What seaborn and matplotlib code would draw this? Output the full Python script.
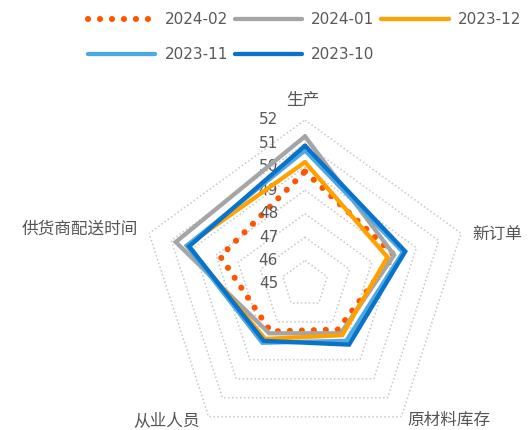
import numpy as np
import pandas as pd
import matplotlib
matplotlib.use("Agg")
import matplotlib.pyplot as plt
import matplotlib.transforms as mtransforms
import seaborn as sns

# Manufacturing PMI sub-indices by month
categories = ["生产", "新订单", "原材料库存", "从业人员", "供货商配送时间"]
months = ["2024-02", "2024-01", "2023-12", "2023-11", "2023-10"]
v_2024_02 = [49.8, 49.0, 47.4, 47.5, 48.8]
v_2024_01 = [51.3, 49.0, 47.6, 47.6, 50.8]
v_2023_12 = [50.2, 48.7, 47.7, 47.9, 50.3]
v_2023_11 = [50.7, 49.4, 48.0, 48.1, 50.3]
v_2023_10 = [50.9, 49.5, 48.2, 48.0, 50.2]
series_values = [v_2024_02, v_2024_01, v_2023_12, v_2023_11, v_2023_10]
ring_levels = [46, 47, 48, 49, 50, 51, 52]
r_min, r_max = 45, 52

colors = ["#FF5500", "#A5A5A5", "#FFA200", "#4BA9E3", "#0A72C8"]

sns.set_theme(style="white")
plt.rcParams["font.family"] = ["DejaVu Sans", "Noto Sans CJK SC"]

fig = plt.figure(figsize=(5.32, 4.30), dpi=100)
W, H = 532, 430
cx, cy, R = 305, 284, 164
ax = fig.add_axes([(cx - R) / W, (H - cy - R) / H, 2 * R / W, 2 * R / H],
                  projection="polar")
ax.set_theta_offset(np.pi / 2)
ax.set_theta_direction(-1)
ax.set_ylim(r_min, r_max)
ax.grid(False)
ax.spines["polar"].set_visible(False)
ax.set_xticks([])
ax.set_yticks([])
ax.patch.set_alpha(0)

n = len(categories)
theta = np.arange(n) * 2 * np.pi / n
theta_closed = np.append(theta, 2 * np.pi)

# dotted pentagon rings
for lvl in ring_levels:
    ax.plot(theta_closed, [lvl] * (n + 1), color="#C8C8C8", lw=1.1,
            linestyle=(0, (1, 1.6)), zorder=1)

# data polygons
lines = []
for i, (m, vals, c) in enumerate(zip(months, series_values, colors)):
    df = pd.DataFrame({"theta": theta_closed, "value": list(vals) + [vals[0]]})
    sns.lineplot(data=df, x="theta", y="value", sort=False, estimator=None,
                 ax=ax, zorder=3 + i, label=m, legend=False, color=c)
    ln = ax.lines[-1]
    if i == 0:
        ln.set_linewidth(4.4)
        ln.set_dashes((0.01, 1.95))
        ln.set_dash_capstyle("round")
    else:
        ln.set_linewidth(3.1)
        ln.set_linestyle("-")
        ln.set_solid_capstyle("round")
        ln.set_solid_joinstyle("miter")
    lines.append(ln)

ax.set_xlabel("")
ax.set_ylabel("")
if ax.get_legend():
    ax.get_legend().remove()
ax.set_ylim(r_min, r_max)

# radial value labels along the top axis
off = mtransforms.offset_copy(ax.transData, fig=fig, x=-27, y=0, units="dots")
for lvl in range(r_min, r_max + 1):
    ax.text(0, lvl, str(lvl), transform=off, ha="right", va="center",
            fontsize=11, color="#595959")

# category labels
label_specs = [
    (0, -2, 20, "center", "center"),
    (1, 11, -1, "left", "center"),
    (2, 6, -4, "left", "center"),
    (3, -9, -4, "right", "center"),
    (4, -11, 4, "right", "center"),
]
for idx, dx, dy, ha, va in label_specs:
    t = mtransforms.offset_copy(ax.transData, fig=fig, x=dx, y=dy, units="dots")
    ax.text(theta[idx], r_max, categories[idx], transform=t, ha=ha, va=va,
            fontsize=12, color="#555555", family=["Noto Sans CJK SC"])

# legend in two rows, row-major order
order = [0, 3, 1, 4, 2]
fig.legend([lines[k] for k in order], [months[k] for k in order],
           ncol=3, loc="upper left", bbox_to_anchor=(88 / W, 1 - 12 / H),
           frameon=False, fontsize=11, handlelength=4.4, handletextpad=0.6,
           columnspacing=0.45, labelspacing=1.3, borderpad=0,
           borderaxespad=0, labelcolor="#595959")

fig.savefig("out.png", dpi=100)
